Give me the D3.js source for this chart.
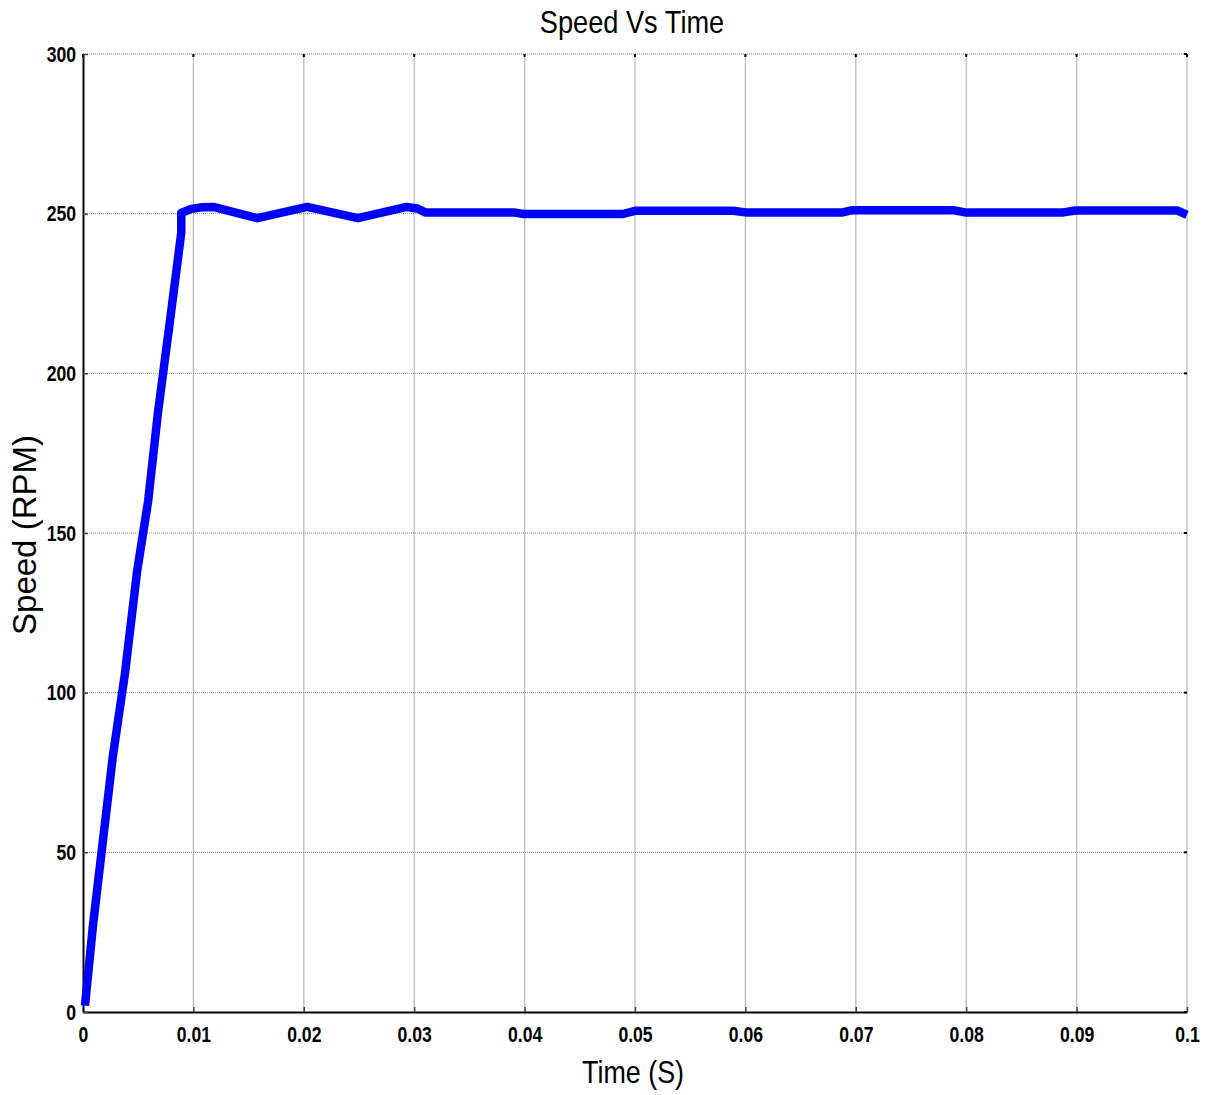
<!DOCTYPE html>
<html>
<head>
<meta charset="utf-8">
<script src="https://cdn.jsdelivr.net/npm/d3@7"></script>
<style>
    body { margin: 0; background: #fff; }
    .tick text { font-family: "Liberation Sans", Arial, sans-serif; font-weight: bold; font-size: 22px; fill: #000; }
</style>
</head>
<body>
<svg id="chart" width="1206" height="1095"></svg>
<script>
var width = 1206;
var height = 1095;
var margin = { left: 83, right: 19, top: 54, bottom: 83 };
var narrow = 0.8;

var xTicks = [0, 0.01, 0.02, 0.03, 0.04, 0.05, 0.06, 0.07, 0.08, 0.09, 0.1];
var xTickLabels = ['0', '0.01', '0.02', '0.03', '0.04', '0.05', '0.06', '0.07', '0.08', '0.09', '0.1'];
var yTicks = [0, 50, 100, 150, 200, 250, 300];

// speed trace
var time = [0.00018, 0.0009, 0.0027, 0.0038, 0.0049, 0.0059, 0.0068, 0.0079, 0.0089,
    0.0089, 0.0098, 0.0108, 0.0118, 0.0158, 0.0203, 0.0249, 0.0293, 0.0303, 0.031,
    0.039, 0.0399, 0.0489, 0.05, 0.0589, 0.06, 0.0688, 0.0697, 0.0788, 0.0799,
    0.0888, 0.0899, 0.0991, 0.1];
var speed = [2, 27, 80, 106, 138, 160, 188, 217, 244,
    250.2, 251.5, 252, 252.1, 248.6, 252.1, 248.6, 252.1, 251.6, 250.4,
    250.4, 249.9, 249.9, 250.9, 250.9, 250.4, 250.4, 251.1, 251.1, 250.4,
    250.4, 251.0, 251.0, 249.6];

var svg = d3.select('#chart');
var x = d3.scaleLinear().domain([0, 0.1]).range([margin.left, width - margin.right]);
var y = d3.scaleLinear().domain([0, 300]).range([height - margin.bottom, margin.top]);

// grid
svg.append('g')
    .selectAll('line')
    .data(xTicks.slice(1))
    .join('line')
    .attr('x1', function(d) { return x(d); })
    .attr('x2', function(d) { return x(d); })
    .attr('y1', y(0))
    .attr('y2', y(300))
    .attr('stroke', '#bcbcbc')
    .attr('stroke-width', 1.3);

svg.append('g')
    .selectAll('line')
    .data(yTicks.slice(1))
    .join('line')
    .attr('x1', x(0))
    .attr('x2', x(0.1))
    .attr('y1', function(d) { return y(d); })
    .attr('y2', function(d) { return y(d); })
    .attr('stroke', '#8a8a8a')
    .attr('stroke-width', 1)
    .attr('stroke-dasharray', '1,1');

// small ticks on top and right
svg.append('g')
    .selectAll('line')
    .data(xTicks)
    .join('line')
    .attr('x1', function(d) { return x(d); })
    .attr('x2', function(d) { return x(d); })
    .attr('y1', y(300))
    .attr('y2', y(300) + 3)
    .attr('stroke', '#000')
    .attr('stroke-width', 2);

svg.append('g')
    .selectAll('line')
    .data(yTicks)
    .join('line')
    .attr('x1', x(0.1) - 3)
    .attr('x2', x(0.1))
    .attr('y1', function(d) { return y(d); })
    .attr('y2', function(d) { return y(d); })
    .attr('stroke', '#000')
    .attr('stroke-width', 2);

// axes
var xAxis = d3.axisBottom(x)
    .tickValues(xTicks)
    .tickFormat(function(d, i) { return xTickLabels[i]; })
    .tickSizeInner(-5)
    .tickSizeOuter(0)
    .tickPadding(14);

var yAxis = d3.axisLeft(y)
    .tickValues(yTicks)
    .tickSizeInner(-5)
    .tickSizeOuter(0)
    .tickPadding(11);

var gx = svg.append('g')
    .attr('transform', 'translate(0,' + y(0) + ')')
    .call(xAxis);
gx.select('.domain').attr('stroke', '#000').attr('stroke-width', 2);
gx.selectAll('.tick line').attr('stroke', '#444').attr('stroke-width', 1.5);
gx.selectAll('.tick text')
    .attr('dy', '0.71em')
    .attr('transform', 'scale(' + narrow + ',1)');

var gy = svg.append('g')
    .attr('transform', 'translate(' + x(0) + ',0)')
    .call(yAxis);
gy.select('.domain').attr('stroke', '#000').attr('stroke-width', 2);
gy.selectAll('.tick line').attr('stroke', '#444').attr('stroke-width', 1.5);
gy.selectAll('.tick text')
    .attr('x', -7 / narrow)
    .attr('transform', 'scale(' + narrow + ',1)');

// speed line
var line = d3.line()
    .x(function(d, i) { return x(time[i]); })
    .y(function(d) { return y(d); });

svg.append('path')
    .datum(speed)
    .attr('d', line)
    .attr('fill', 'none')
    .attr('stroke', '#0000ff')
    .attr('stroke-width', 8.5)
    .attr('stroke-linejoin', 'round');

// labels
svg.append('text')
    .attr('transform', 'translate(632,33) scale(0.85,1)')
    .attr('text-anchor', 'middle')
    .style('font-family', '"Liberation Sans", Arial, sans-serif')
    .style('font-size', '32px')
    .text('Speed Vs Time');

svg.append('text')
    .attr('transform', 'translate(633,1083) scale(0.84,1)')
    .attr('text-anchor', 'middle')
    .style('font-family', '"Liberation Sans", Arial, sans-serif')
    .style('font-size', '32px')
    .text('Time (S)');

svg.append('text')
    .attr('transform', 'translate(36,535) rotate(-90)')
    .attr('text-anchor', 'middle')
    .style('font-family', '"Liberation Sans", Arial, sans-serif')
    .style('font-size', '33px')
    .text('Speed (RPM)');
</script>
</body>
</html>
